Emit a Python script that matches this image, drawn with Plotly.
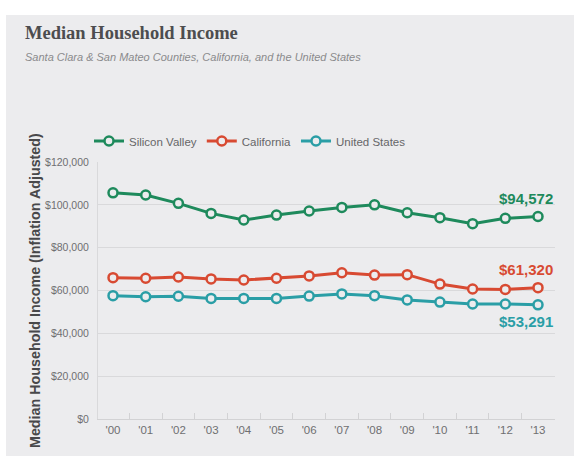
import plotly.graph_objects as go

years = ["'00", "'01", "'02", "'03", "'04", "'05", "'06", "'07", "'08", "'09", "'10", "'11", "'12", "'13"]
silicon_valley = [105600, 104600, 100700, 96000, 92900, 95200, 97100, 98800, 100000, 96300, 94000, 91200, 93700, 94572]
california = [66000, 65700, 66300, 65400, 64900, 65700, 66800, 68300, 67200, 67400, 63000, 60700, 60500, 61320]
united_states = [57600, 57100, 57300, 56300, 56300, 56300, 57400, 58400, 57600, 55600, 54600, 53700, 53700, 53291]
y_ticks = [0, 20000, 40000, 60000, 80000, 100000, 120000]
y_labels = ["$0", "$20,000", "$40,000", "$60,000", "$80,000", "$100,000", "$120,000"]

BG = "#ececee"
SANS = "Liberation Sans, Arial, sans-serif"

series = [
    ("Silicon Valley", silicon_valley, "#1e8a5c"),
    ("California", california, "#d84a32"),
    ("United States", united_states, "#2a9ea6"),
]

fig = go.Figure()
for name, vals, col in series:
    fig.add_trace(go.Scatter(
        x=years, y=vals, name=name, mode="lines+markers",
        line=dict(color=col, width=3),
        marker=dict(symbol="circle", size=9, color=BG, line=dict(color=col, width=2.5)),
    ))

# end labels
label_shift = {"Silicon Valley": 18, "California": 18, "United States": -17}
for name, vals, col in series:
    fig.add_annotation(x=len(years) - 1, y=vals[-1], xref="x", yref="y",
                       text="<b>$" + format(vals[-1], ",") + "</b>", showarrow=False,
                       xshift=-12, yshift=label_shift[name],
                       font=dict(family=SANS, size=15, color=col))

W, H = 574, 456
L, R, T, B = 98, 19, 162, 37
PW, PH = W - L - R, H - T - B

def px(x):
    return (x - L) / PW

def py(y):
    return (H - B - y) / PH

# gray card background
fig.add_shape(type="rect", xref="paper", yref="paper", x0=px(6), x1=px(W + 10), y0=py(15), y1=py(H + 10),
              fillcolor=BG, line=dict(width=0), layer="below")

fig.add_annotation(xref="paper", yref="paper", x=px(23), y=py(33), xanchor="left", yanchor="middle",
                   text="<b>Median Household Income</b>", showarrow=False,
                   font=dict(family="Liberation Serif, DejaVu Serif, serif", size=18.5, color="#4d4d4f"))
fig.add_annotation(xref="paper", yref="paper", x=px(23), y=py(57), xanchor="left", yanchor="middle",
                   text="<i>Santa Clara &amp; San Mateo Counties, California, and the United States</i>", showarrow=False,
                   font=dict(family=SANS, size=11, color="#8a8a8c"))
fig.add_annotation(xref="paper", yref="paper", x=px(35), y=py(291), xanchor="center", yanchor="middle",
                   textangle=-90, text="<b>Median Household Income (Inflation Adjusted)</b>", showarrow=False,
                   font=dict(family=SANS, size=14.3, color="#48484a"))

fig.update_layout(
    width=W, height=H,
    margin=dict(l=L, r=R, t=T, b=B, autoexpand=False),
    paper_bgcolor="white", plot_bgcolor=BG,
    showlegend=True,
    legend=dict(orientation="h", x=px(89), y=py(141), xanchor="left", yanchor="middle",
                bgcolor="rgba(0,0,0,0)", font=dict(family=SANS, size=11.5, color="#666668"),
                itemwidth=30, tracegroupgap=0),
    xaxis=dict(type="category", range=[-0.459, 13.52], showgrid=False, automargin=False,
               showline=True, linecolor="#d2d2d4", linewidth=1,
               ticks="inside", tickson="boundaries", ticklen=6, tickcolor="#d2d2d4",
               tickfont=dict(family=SANS, size=11.5, color="#6f6f71"), fixedrange=True),
    yaxis=dict(range=[0, 120000], tickvals=y_ticks, ticktext=y_labels, automargin=False,
               showgrid=True, gridcolor="#d9d9db", gridwidth=1, zeroline=False,
               showline=True, linecolor="#d9d9db", linewidth=1, ticks="", ticklabelstandoff=6,
               tickfont=dict(family=SANS, size=10.5, color="#6f6f71")),
)

fig.write_html("out.html", config={"displayModeBar": False},
               post_script="document.body.style.margin='0';document.body.style.overflow='hidden';")
